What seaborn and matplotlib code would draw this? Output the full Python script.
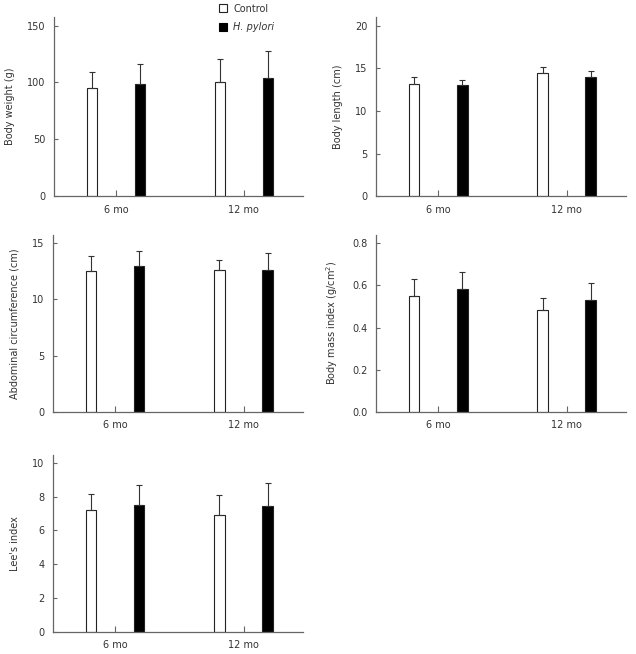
import numpy as np
import pandas as pd
import matplotlib
matplotlib.use("Agg")
import matplotlib.pyplot as plt
from matplotlib.patches import Patch
import seaborn as sns

# Dados (média e desvio padrão)
ages = ["6 mo", "12 mo"]
groups = ["Control", "H. pylori"]

weight_ctrl = [95.1, 100.7]
weight_ctrl_sd = [14.0, 19.5]
weight_hp = [98.9, 104.2]
weight_hp_sd = [17.7, 23.1]

length_ctrl = [13.2, 14.4]
length_ctrl_sd = [0.8, 0.7]
length_hp = [13.07, 14.0]
length_hp_sd = [0.6, 0.65]

abd_ctrl = [12.56, 12.65]
abd_ctrl_sd = [1.34, 0.83]
abd_hp = [12.95, 12.65]
abd_hp_sd = [1.34, 1.49]

bmi_ctrl = [0.551, 0.482]
bmi_ctrl_sd = [0.081, 0.060]
bmi_hp = [0.583, 0.532]
bmi_hp_sd = [0.079, 0.079]

lee_ctrl = [7.22, 6.94]
lee_ctrl_sd = [0.93, 1.15]
lee_hp = [7.53, 7.44]
lee_hp_sd = [1.17, 1.38]

panels = [
    ("Body weight (g)", weight_ctrl, weight_ctrl_sd, weight_hp, weight_hp_sd, [0, 50, 100, 150], "{:.0f}"),
    ("Body length (cm)", length_ctrl, length_ctrl_sd, length_hp, length_hp_sd, [0, 5, 10, 15, 20], "{:.0f}"),
    ("Abdominal circumference (cm)", abd_ctrl, abd_ctrl_sd, abd_hp, abd_hp_sd, [0, 5, 10, 15], "{:.0f}"),
    ("Body mass index (g/cm$^2$)", bmi_ctrl, bmi_ctrl_sd, bmi_hp, bmi_hp_sd, [0, 0.2, 0.4, 0.6, 0.8], "{:.1f}"),
    ("Lee's index", lee_ctrl, lee_ctrl_sd, lee_hp, lee_hp_sd, [0, 2, 4, 6, 8, 10], "{:.0f}"),
]

# Posições dos eixos em coordenadas da figura
positions = [
    [0.085, 0.700, 0.391, 0.274],
    [0.591, 0.700, 0.393, 0.274],
    [0.083, 0.370, 0.393, 0.271],
    [0.591, 0.370, 0.393, 0.271],
    [0.083, 0.034, 0.393, 0.271],
]

sns.set_style("ticks")
plt.rcParams["font.family"] = ["DejaVu Sans"]
plt.rcParams["font.size"] = 7

spine_color = "#666666"
text_color = "#333333"

fig = plt.figure(figsize=(6.36, 6.54), dpi=100)

for pos, (label, ctrl, ctrl_sd, hp, hp_sd, yticks, fmt) in zip(positions, panels):
    ax = fig.add_axes(pos)
    df = pd.DataFrame({
        "age": ages * 2,
        "group": [groups[0]] * 2 + [groups[1]] * 2,
        "value": list(ctrl) + list(hp),
    })
    sns.barplot(
        data=df, x="age", y="value", hue="group", order=ages, hue_order=groups,
        palette={"Control": "white", "H. pylori": "black"},
        width=0.75, gap=0.78, edgecolor="#222222", linewidth=0.8,
        errorbar=None, legend=False, ax=ax,
    )
    # Barras de erro (apenas para cima)
    for cont, sd in zip(ax.containers, [ctrl_sd, hp_sd]):
        xs = [b.get_x() + b.get_width() / 2 for b in cont]
        hs = [b.get_height() for b in cont]
        ax.errorbar(xs, hs, yerr=[np.zeros(len(sd)), sd], fmt="none",
                    ecolor="#333333", elinewidth=0.8, capsize=2, capthick=0.8)

    ax.set_xlim(-0.484, 1.46)
    ax.set_ylim(0, yticks[-1] * 1.05)
    ax.set_yticks(yticks)
    ax.set_yticklabels([fmt.format(t) for t in yticks])
    ax.set_xlabel("")
    ax.set_ylabel(label, color=text_color, labelpad=9)
    sns.despine(ax=ax)
    for s in ["left", "bottom"]:
        ax.spines[s].set_color(spine_color)
        ax.spines[s].set_linewidth(0.9)
    ax.tick_params(axis="y", direction="in", length=3, width=0.8,
                   color=spine_color, labelcolor=text_color, pad=6)
    ax.tick_params(axis="x", direction="in", length=4, width=0.8,
                   color=spine_color, labelcolor=text_color, pad=6)

handles = [Patch(facecolor="white", edgecolor="#222222", linewidth=0.8),
           Patch(facecolor="black", edgecolor="black", linewidth=0.8)]
leg = fig.legend(handles, ["Control", "H. pylori"], loc="upper left",
                 bbox_to_anchor=(0.33, 1.008), frameon=False,
                 handlelength=0.9, handleheight=0.9, handletextpad=0.6,
                 labelspacing=0.9, fontsize=7)
for t in leg.get_texts():
    t.set_color(text_color)
leg.get_texts()[1].set_style("italic")

fig.savefig("out.png", dpi=100)
